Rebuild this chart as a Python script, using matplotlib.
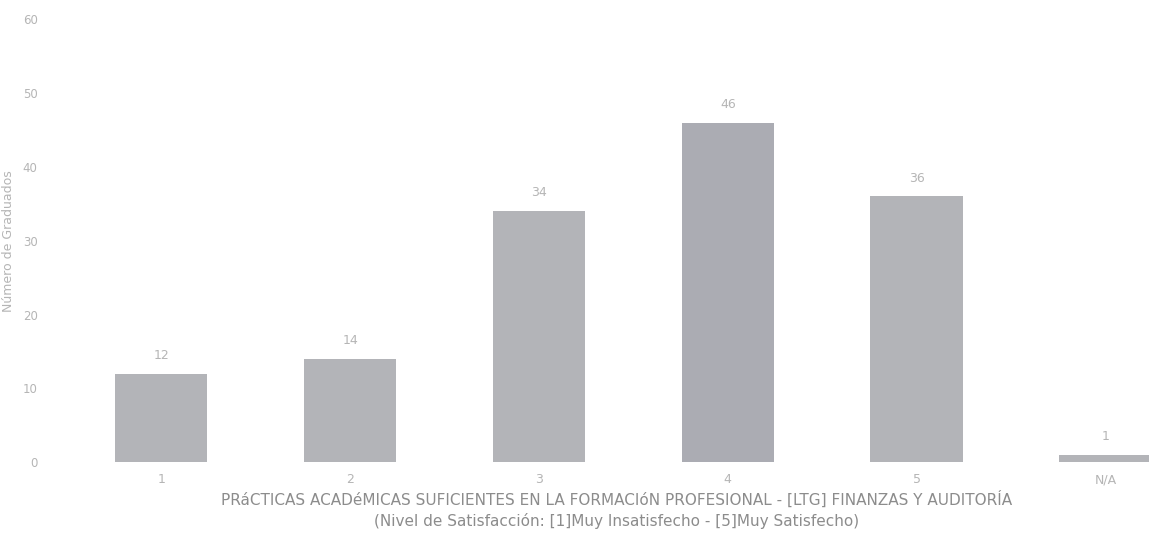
import matplotlib
matplotlib.use("Agg")
import matplotlib.pyplot as plt

# data
categories = ["1", "2", "3", "4", "5", "N/A"]
counts     = [12, 14, 34, 46, 36, 1]
bar_colors = ["#B3B4B8", "#B3B4B8", "#B3B4B8", "#ABACB3", "#B3B4B8", "#B3B4B8"]
y_ticks    = [0, 10, 20, 30, 40, 50, 60]

XLABEL_1 = "PRáCTICAS ACADéMICAS SUFICIENTES EN LA FORMACIóN PROFESIONAL - [LTG] FINANZAS Y AUDITORÍA"
XLABEL_2 = "(Nivel de Satisfacción: [1]Muy Insatisfecho - [5]Muy Satisfecho)"
YLABEL   = "Número de Graduados"

TICK_COLOR  = "#B5B5B5"
LABEL_COLOR = "#8C8C8C"

fig = plt.figure(figsize=(11.49, 5.47), dpi=100)
ax = fig.add_axes([0.04, 0.155, 0.96, 0.81])

x = list(range(len(categories)))
bars = ax.bar(x, counts, width=0.49, color=bar_colors)

for rect, val in zip(bars, counts):
    ax.text(rect.get_x() + rect.get_width() / 2, val + 1.6, str(val),
            ha="center", va="bottom", fontsize=9, color=TICK_COLOR)

ax.set_xlim(-0.61, 5.23)
ax.set_ylim(0, 60)
ax.set_yticks(y_ticks)
ax.set_yticklabels([str(t) for t in y_ticks], fontsize=8.5, color=TICK_COLOR)
ax.set_xticks(x)
ax.set_xticklabels(categories, fontsize=9, color=TICK_COLOR)
ax.tick_params(axis="x", length=0, pad=8)
ax.tick_params(axis="y", length=0, pad=6)
ax.spines[["top", "right", "bottom", "left"]].set_visible(False)

fig.text(0.007, 0.56, YLABEL, rotation=90, ha="center", va="center",
         fontsize=9, color=TICK_COLOR)
fig.text(0.537, 0.088, XLABEL_1, ha="center", va="center",
         fontsize=11, color=LABEL_COLOR)
fig.text(0.537, 0.048, XLABEL_2, ha="center", va="center",
         fontsize=11, color=LABEL_COLOR)

fig.savefig("out.png", dpi=100)
